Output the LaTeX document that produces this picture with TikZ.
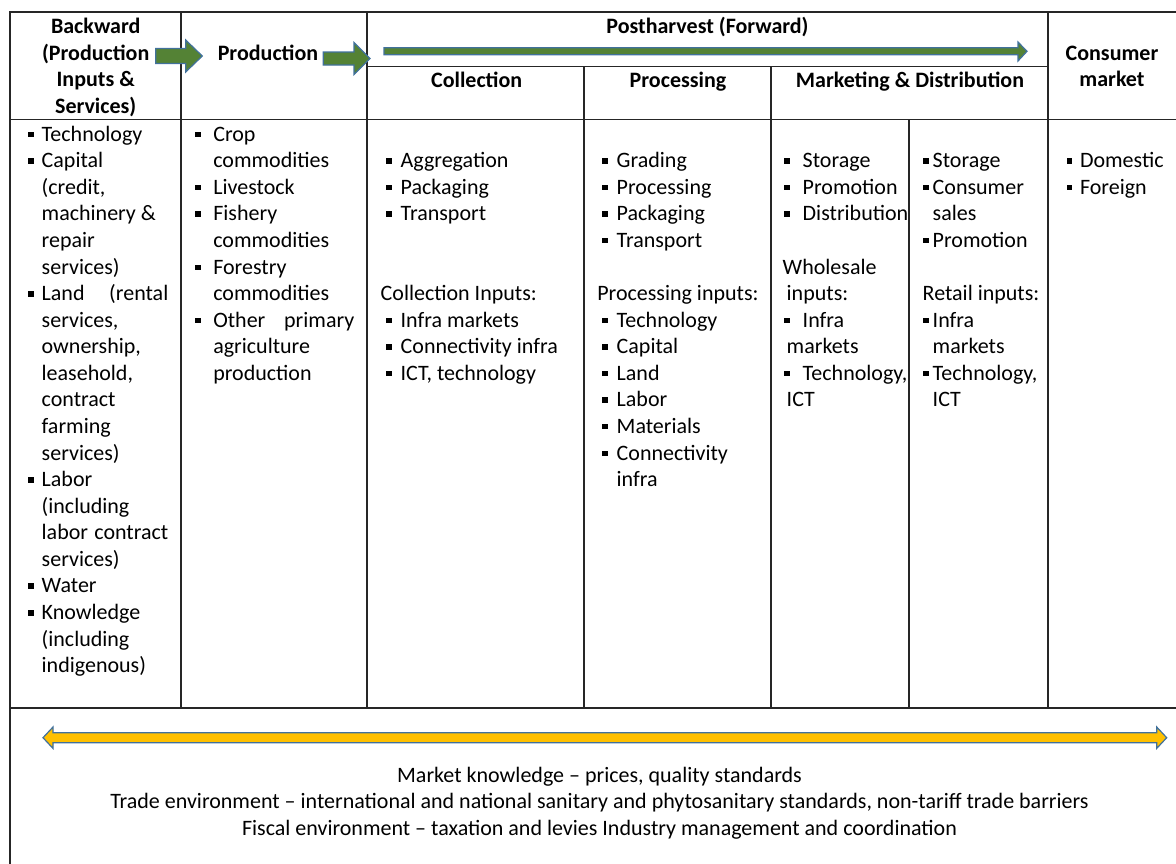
\documentclass[tikz,border=0pt]{standalone}
\usepackage{fontspec}
\setmainfont{Carlito}
\definecolor{arrgreen}{RGB}{84,130,53}
\definecolor{arrblue}{RGB}{65,113,156}
\definecolor{arryellow}{RGB}{255,192,0}
\definecolor{gridc}{RGB}{38,38,38}
\newcommand\sqb{\rule[4pt]{5.5pt}{5.5pt}}
\newcommand\bit[2]{\hspace*{#1}\makebox[#2][l]{\sqb}}
\begin{document}
\begin{tikzpicture}[x=1pt,y=-1pt,
  grid/.style={draw=gridc,line width=1.1pt},
  txt/.style={inner sep=0pt,outer sep=0pt,font=\fontsize{22}{26.58}\selectfont,align=left,anchor=north west},
  hdr/.style={inner sep=0pt,outer sep=0pt,font=\bfseries\fontsize{22}{26.58}\selectfont,align=center,anchor=north},
  foot/.style={inner sep=0pt,outer sep=0pt,font=\fontsize{22}{26.58}\selectfont,align=center,anchor=north},
  blockg/.style={fill=arrgreen,draw=arrblue,line width=1.2pt,line join=miter},
  blocky/.style={fill=arryellow,draw=arrblue,line width=1.2pt,line join=miter}]
\useasboundingbox (0,0) rectangle (1176,863);

% table grid
\draw[grid] (10,870) -- (10,12) -- (1180,12);
\draw[grid] (10,119.5) -- (1180,119.5);
\draw[grid] (10,708) -- (1180,708);
\draw[grid] (367,66.7) -- (1048,66.7);
\draw[grid] (181,12) -- (181,708);
\draw[grid] (367,12) -- (367,708);
\draw[grid] (584,66.7) -- (584,708);
\draw[grid] (771,66.7) -- (771,708);
\draw[grid] (909,119.5) -- (909,708);
\draw[grid] (1048,12) -- (1048,708);

% block arrows
\draw[blockg] (155.7,48.5) -- (185.7,48.5) -- (185.7,40) -- (202.3,56) -- (185.7,72) -- (185.7,63.5) -- (155.7,63.5) -- cycle;
\draw[blockg] (323.3,52) -- (354,52) -- (354,42.5) -- (370,58.5) -- (354,74.5) -- (354,65) -- (323.3,65) -- cycle;
\draw[blockg] (384,47.8) -- (1018,47.8) -- (1018,42) -- (1027,51.3) -- (1018,61) -- (1018,54.8) -- (384,54.8) -- cycle;
\draw[blocky] (43,737.7) -- (53,727) -- (53,732.7) -- (1156.7,732.7) -- (1156.7,727) -- (1166.7,737.7) -- (1156.7,748.4) -- (1156.7,742.7) -- (53,742.7) -- (53,748.4) -- cycle;

% header texts
\node[hdr] (hback) at (95.7,14.9) {\strut Backward\\(Production\\Inputs \&\\Services)};
\node[hdr] (hprod) at (268,41.5) {\strut Production};
\node[hdr] (hpost) at (707.5,14.9) {\strut Postharvest (Forward)};
\node[hdr] (hcoll) at (476.7,68.5) {\strut Collection};
\node[hdr] (hproc) at (678,68.5) {\strut Processing};
\node[hdr] (hmkt) at (910,68.5) {\strut Marketing \& Distribution};
\node[hdr] (hcons) at (1112,41.5) {\strut Consumer\\market};

% column 1: backward
\node[txt] (cback) at (28,122.5) {\strut\bit{0pt}{13.7pt}Technology\\
\bit{0pt}{13.7pt}Capital\\
\hspace*{13.7pt}(credit,\\
\hspace*{13.7pt}machinery \&\\
\hspace*{13.7pt}repair\\
\hspace*{13.7pt}services)\\
\bit{0pt}{13.7pt}\makebox[126.6pt][s]{Land (rental}\\
\hspace*{13.7pt}services,\\
\hspace*{13.7pt}ownership,\\
\hspace*{13.7pt}leasehold,\\
\hspace*{13.7pt}contract\\
\hspace*{13.7pt}farming\\
\hspace*{13.7pt}services)\\
\bit{0pt}{13.7pt}Labor\\
\hspace*{13.7pt}(including\\
\hspace*{13.7pt}\makebox[126.6pt][s]{labor contract}\\
\hspace*{13.7pt}services)\\
\bit{0pt}{13.7pt}Water\\
\bit{0pt}{13.7pt}Knowledge\\
\hspace*{13.7pt}(including\\
\hspace*{13.7pt}indigenous)};

% column 2: production
\node[txt] (cprod) at (195,122.5) {\strut\bit{0pt}{18.3pt}Crop\\
\hspace*{18.3pt}commodities\\
\bit{0pt}{18.3pt}Livestock\\
\bit{0pt}{18.3pt}Fishery\\
\hspace*{18.3pt}commodities\\
\bit{0pt}{18.3pt}Forestry\\
\hspace*{18.3pt}commodities\\
\bit{0pt}{18.3pt}\makebox[141pt][s]{Other primary}\\
\hspace*{18.3pt}agriculture\\
\hspace*{18.3pt}production};

% column 3: collection
\node[txt] (ccoll) at (380.7,122.5) {\strut\\
\bit{5.3pt}{14.7pt}Aggregation\\
\bit{5.3pt}{14.7pt}Packaging\\
\bit{5.3pt}{14.7pt}Transport\\
\strut\\
\strut\\
Collection Inputs:\\
\bit{5.3pt}{14.7pt}Infra markets\\
\bit{5.3pt}{14.7pt}Connectivity infra\\
\bit{5.3pt}{14.7pt}ICT, technology};

% column 4: processing
\node[txt] (cproc) at (597.3,122.5) {\strut\\
\bit{5pt}{14.4pt}Grading\\
\bit{5pt}{14.4pt}Processing\\
\bit{5pt}{14.4pt}Packaging\\
\bit{5pt}{14.4pt}Transport\\
\strut\\
Processing inputs:\\
\bit{5pt}{14.4pt}Technology\\
\bit{5pt}{14.4pt}Capital\\
\bit{5pt}{14.4pt}Land\\
\bit{5pt}{14.4pt}Labor\\
\bit{5pt}{14.4pt}Materials\\
\bit{5pt}{14.4pt}Connectivity\\
\hspace*{19.4pt}infra};

% column 5: wholesale
\node[txt] (cwhole) at (782.7,122.5) {\strut\\
\bit{1.3pt}{18.7pt}Storage\\
\bit{1.3pt}{18.7pt}Promotion\\
\bit{1.3pt}{18.7pt}Distribution\\
\strut\\
Wholesale\\
\hspace*{4pt}inputs:\\
\bit{1.3pt}{18.7pt}Infra\\
\hspace*{4pt}markets\\
\bit{1.3pt}{18.7pt}Technology,\\
\hspace*{4pt}ICT};

% column 6: retail
\node[txt] (cretail) at (922.7,122.5) {\strut\\
\bit{0.6pt}{9.4pt}Storage\\
\bit{0.6pt}{9.4pt}Consumer\\
\hspace*{10pt}sales\\
\bit{0.6pt}{9.4pt}Promotion\\
\strut\\
Retail inputs:\\
\bit{0.6pt}{9.4pt}Infra\\
\hspace*{10pt}markets\\
\bit{0.6pt}{9.4pt}Technology,\\
\hspace*{10pt}ICT};

% column 7: consumer market
\node[txt] (ccons) at (1066.7,122.5) {\strut\\
\bit{0pt}{13.3pt}Domestic\\
\bit{0pt}{13.3pt}Foreign};

% bottom text
\node[foot] (envtext) at (599.5,763.5) {\strut Market knowledge \textendash{} prices, quality standards\\
Trade environment \textendash{} international and national sanitary and phytosanitary standards, non-tariff trade barriers\\
Fiscal environment \textendash{} taxation and levies Industry management and coordination};
\end{tikzpicture}
\end{document}
